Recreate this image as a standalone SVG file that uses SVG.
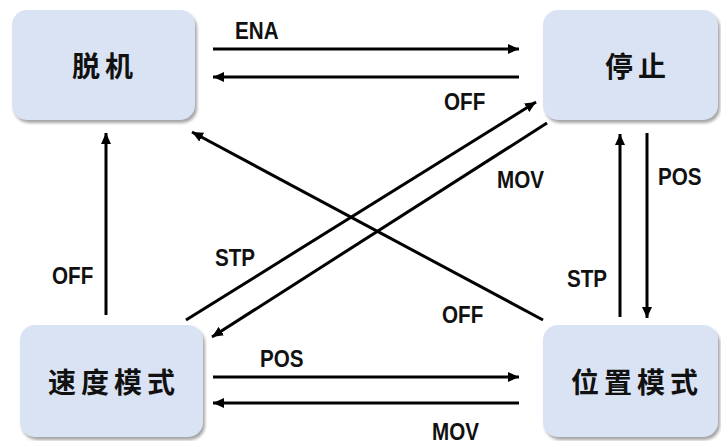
<svg xmlns="http://www.w3.org/2000/svg" width="721" height="441" viewBox="0 0 721 441">
<defs>
<marker id="ah" markerUnits="userSpaceOnUse" markerWidth="12" markerHeight="10" refX="11" refY="5" orient="auto">
<path d="M0,0 L11,5 L0,10 z" fill="#000"/>
</marker>
<filter id="sh" x="-10%" y="-10%" width="125%" height="130%">
<feDropShadow dx="2" dy="3" stdDeviation="1.8" flood-color="#7f7f7f" flood-opacity="0.7"/>
</filter>
</defs>
<style>
.box{fill:#dae3f3;filter:url(#sh)}
.nt{font-family:"Noto Sans CJK SC","Noto Sans CJK JP",sans-serif;font-weight:bold;font-size:28px;fill:#111;text-anchor:middle;letter-spacing:5px}
.ln{stroke:#000;stroke-width:3;fill:none;marker-end:url(#ah)}
.lb{font-family:"Liberation Sans",sans-serif;font-weight:bold;font-size:24px;fill:#111}
</style>
<rect width="721" height="441" fill="#fff"/>
<g id="n1"><rect class="box" x="12" y="10" width="183" height="110" rx="15"/><text class="nt" x="105" y="77">脱机</text></g>
<g id="n2"><rect class="box" x="543" y="10" width="175" height="110" rx="15"/><text class="nt" x="638" y="77">停止</text></g>
<g id="n3"><rect class="box" x="20" y="325" width="183" height="112" rx="15"/><text class="nt" x="114" y="393">速度模式</text></g>
<g id="n4"><rect class="box" x="543" y="325" width="175" height="112" rx="15"/><text class="nt" x="637" y="393">位置模式</text></g>
<g id="edges">
<line class="ln" x1="213" y1="49" x2="519" y2="49"/>
<line class="ln" x1="519" y1="77" x2="213" y2="77"/>
<line class="ln" x1="106" y1="315" x2="106" y2="133"/>
<line class="ln" x1="186" y1="320" x2="536" y2="102"/>
<line class="ln" x1="547" y1="123" x2="212" y2="337"/>
<line class="ln" x1="543" y1="320" x2="192" y2="132"/>
<line class="ln" x1="213" y1="377" x2="519" y2="377"/>
<line class="ln" x1="519" y1="403" x2="213" y2="403"/>
<line class="ln" x1="620" y1="317" x2="620" y2="134"/>
<line class="ln" x1="647" y1="133" x2="647" y2="318"/>
<text class="lb" transform="translate(235,39) scale(0.86,1)">ENA</text>
<text class="lb" transform="translate(444,110) scale(0.86,1)">OFF</text>
<text class="lb" transform="translate(52,284) scale(0.86,1)">OFF</text>
<text class="lb" transform="translate(215,266) scale(0.86,1)">STP</text>
<text class="lb" transform="translate(497,188) scale(0.86,1)">MOV</text>
<text class="lb" transform="translate(442,323) scale(0.86,1)">OFF</text>
<text class="lb" transform="translate(260,367) scale(0.86,1)">POS</text>
<text class="lb" transform="translate(432,440) scale(0.86,1)">MOV</text>
<text class="lb" transform="translate(567,287) scale(0.86,1)">STP</text>
<text class="lb" transform="translate(658,185) scale(0.86,1)">POS</text>
</g>
</svg>
